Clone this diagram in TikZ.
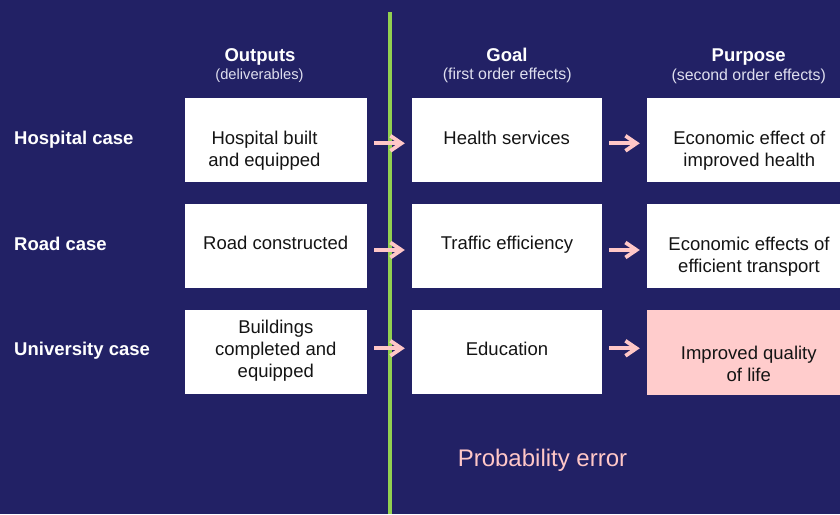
\documentclass[tikz,border=0pt]{standalone}
\usepackage{fontspec}
\setmainfont{Liberation Sans}
\usetikzlibrary{arrows.meta,calc}
\definecolor{bg}{RGB}{34,33,101}
\definecolor{vgreen}{RGB}{146,208,80}
\definecolor{apink}{RGB}{255,199,199}
\definecolor{boxpink}{RGB}{255,204,204}
\definecolor{subgray}{RGB}{222,222,238}
\definecolor{txtdark}{RGB}{20,20,20}
\begin{document}
\begin{tikzpicture}[x=1pt,y=-1pt,
  cell/.style={fill=white,draw=none,inner sep=0pt,minimum width=#1,minimum height=84pt},
  btxt/.style={font=\fontsize{18.5}{22}\selectfont,text=txtdark,align=center,inner sep=0pt},
  head/.style={font=\fontsize{18.5}{22}\selectfont\bfseries,text=white,inner sep=0pt,anchor=base},
  subhead/.style={font=\fontsize{15.9}{18}\selectfont,text=subgray,inner sep=0pt,anchor=base},
  rowlab/.style={font=\fontsize{18.5}{22}\selectfont\bfseries,text=white,inner sep=0pt,anchor=base west},
  parrow/.style={draw=apink,line width=3.8pt,-{Straight Barb[length=11pt,width=15pt]}}]
\fill[bg] (0,0) rectangle (840,514);
\useasboundingbox (0,0) rectangle (840,514);
% boxes
\node[cell=182pt] (o1) at (276,139.5) {};
\node[cell=182pt] (o2) at (276,245.7) {};
\node[cell=182pt] (o3) at (276,351.7) {};
\node[cell=190pt] (g1) at (507,139.5) {};
\node[cell=190pt] (g2) at (507,245.7) {};
\node[cell=190pt] (g3) at (507,351.7) {};
\node[cell=193pt] (p1) at (743.5,139.5) {};
\node[cell=193pt] (p2) at (743.5,245.7) {};
\node[cell=193pt,fill=boxpink,minimum height=85.5pt] (p3) at (743.5,352.7) {};
% box texts
\node[btxt] (to1) at (264.5,150.6) {Hospital built\\and equipped};
\node[btxt,anchor=base] (to2) at (275.7,249.9) {Road constructed};
\node[btxt] (to3) at (275.8,350.8) {Buildings\\completed and\\equipped};
\node[btxt,anchor=base] (tg1) at (506.7,144.9) {Health services};
\node[btxt,anchor=base] (tg2) at (507,249.9) {Traffic efficiency};
\node[btxt,anchor=base] (tg3) at (507,355.6) {Education};
\node[btxt] (tp1) at (749.3,150.6) {Economic effect of\\improved health};
\node[btxt] (tp2) at (749,256.8) {Economic effects of\\efficient transport};
\node[btxt] (tp3) at (748.8,363.6) {Improved quality\\of life};
% headers
\node[head] (h1) at (260,61.6) {Outputs};
\node[subhead,font=\fontsize{14.7}{18}\selectfont] (s1) at (259.5,79.3) {(deliverables)};
\node[head] (h2) at (507,61.6) {Goal};
\node[subhead] (s2) at (507.2,79.8) {(first order effects)};
\node[head] (h3) at (748.7,61.6) {Purpose};
\node[subhead] (s3) at (748.7,80.3) {(second order effects)};
% row labels
\node[rowlab] (r1) at (14,144.6) {Hospital case};
\node[rowlab] (r2) at (14,250.6) {Road case};
\node[rowlab] (r3) at (14,355.9) {University case};
% probability error
\node[font=\fontsize{24}{28}\selectfont,text=apink,inner sep=0pt,anchor=base] (pe) at (542.5,466.6) {Probability error};
% green line
\coordinate (gtop) at (389.8,12);
\coordinate (gbot) at (389.8,514);
\draw[vgreen,line width=4.2pt] (gtop) -- (gbot);
% arrows
\draw[parrow] ($(o1.east)+(7,3.8)$) -- ($(g1.west)+(-7,3.8)$);
\draw[parrow] ($(o2.east)+(7,4.3)$) -- ($(g2.west)+(-7,4.3)$);
\draw[parrow] ($(o3.east)+(7,-3.4)$) -- ($(g3.west)+(-7,-3.4)$);
\draw[parrow] ($(g1.east)+(7,3.8)$) -- ($(p1.west)+(-7,3.8)$);
\draw[parrow] ($(g2.east)+(7,4.3)$) -- ($(p2.west)+(-7,4.3)$);
\draw[parrow] ($(g3.east)+(7,-3.4)$) -- ($(p3.west)+(-7,-4.4)$);
\end{tikzpicture}
\end{document}
